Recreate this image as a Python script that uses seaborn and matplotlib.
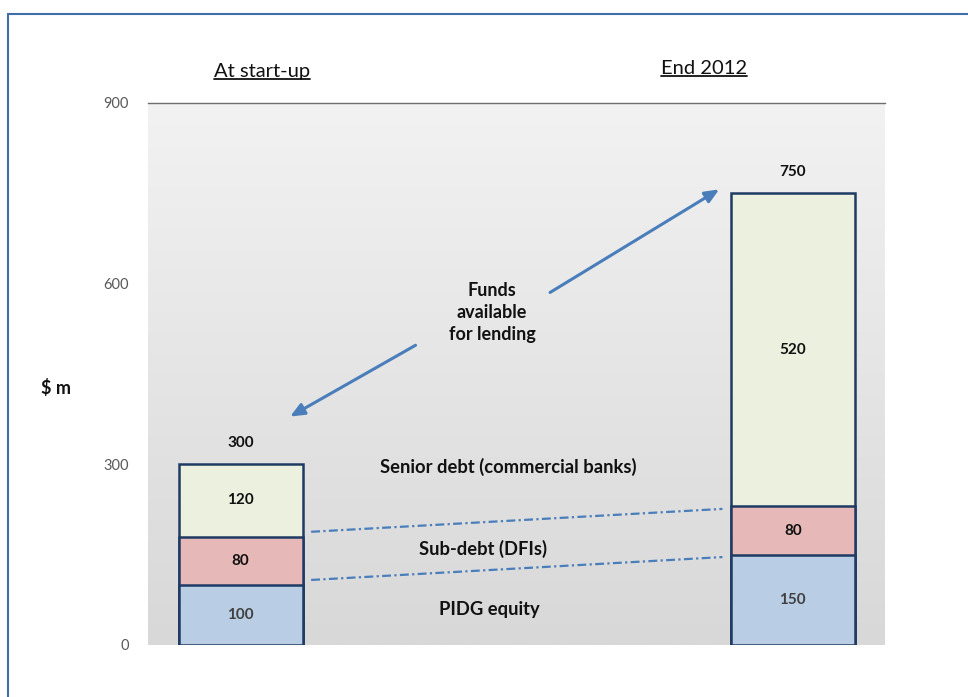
import numpy as np
import pandas as pd
import matplotlib
matplotlib.use("Agg")
import matplotlib.pyplot as plt
import seaborn as sns
from matplotlib.lines import Line2D

# ---- data ----
periods = ["At start-up", "End 2012"]
pidg_equity = [100, 150]
sub_debt = [80, 80]
senior_debt = [120, 520]
segment_names = ["PIDG equity", "Sub-debt (DFIs)", "Senior debt (commercial banks)"]
y_ticks = [0, 300, 600, 900]
y_label = "\\$ m"
note_text = "Funds\navailable\nfor lending"

totals = [a + b + c for a, b, c in zip(pidg_equity, sub_debt, senior_debt)]
eq_sub = [a + b for a, b in zip(pidg_equity, sub_debt)]

sns.set_theme(style="white")
plt.rcParams["font.family"] = ["Lato", "DejaVu Sans"]

fig = plt.figure(figsize=(9.68, 6.97), dpi=100)
ax = fig.add_axes([148/968, 52/697, 737/968, 542/697])

df = pd.DataFrame({"period": periods, "total": totals, "eq_sub": eq_sub, "eq": pidg_equity})

colors = {"senior": "#EBF1DE", "sub": "#E6B9B8", "eq": "#B9CDE5"}
edge = "#1F3B63"
bw = 0.225
for col, c in [("total", colors["senior"]), ("eq_sub", colors["sub"]), ("eq", colors["eq"])]:
    sns.barplot(data=df, x="period", y=col, order=periods, color=c, width=bw,
                edgecolor=edge, linewidth=1.8, saturation=1, ax=ax, zorder=3)

xlim = (-0.168, 1.167)
ax.set_xlim(*xlim)
ax.set_ylim(0, 900)

# gradient background
grad = np.linspace(0, 1, 256).reshape(-1, 1)
cmap = matplotlib.colors.LinearSegmentedColormap.from_list("g", ["#D8D8D8", "#F2F2F2"])
ax.imshow(grad, extent=(xlim[0], xlim[1], 0, 900), origin="lower", aspect="auto",
          cmap=cmap, zorder=0)

ax.set_yticks(y_ticks)
ax.set_yticklabels([str(t) for t in y_ticks], color="#595959", fontsize=10.5)
ax.tick_params(axis="y", length=0, pad=14)
ax.set_xticks([])
ax.set_xlabel("")
ax.set_ylabel("")
for s in ["left", "right", "bottom"]:
    ax.spines[s].set_visible(False)
ax.spines["top"].set_color("#6E6E6E")
ax.spines["top"].set_linewidth(1.0)

txtc = "#111111"
vfs = 11
# value labels
for i in range(2):
    ax.text(i, pidg_equity[i] / 2, str(pidg_equity[i]), ha="center", va="center",
            fontsize=vfs, fontweight="bold", color="#404040", zorder=5)
    ax.text(i, pidg_equity[i] + sub_debt[i] / 2, str(sub_debt[i]), ha="center", va="center",
            fontsize=vfs, fontweight="bold", color=txtc, zorder=5)
    ax.text(i, eq_sub[i] + senior_debt[i] / 2, str(senior_debt[i]), ha="center", va="center",
            fontsize=vfs, fontweight="bold", color=txtc, zorder=5)
    ax.text(i, totals[i] + 36, str(totals[i]), ha="center", va="center",
            fontsize=vfs, fontweight="bold", color=txtc, zorder=5)

# segment names
nfs = 13.2
ax.text(0.450, 59, segment_names[0], ha="center", va="center", fontsize=nfs, fontweight="bold", color=txtc)
ax.text(0.438, 159, segment_names[1], ha="center", va="center", fontsize=nfs, fontweight="bold", color=txtc)
ax.text(0.484, 296, segment_names[2], ha="center", va="center", fontsize=nfs, fontweight="bold", color=txtc)

# dash-dot connector lines
blue = "#4A7EBB"
gap = 0.015
for lvl in [pidg_equity, eq_sub]:
    ax.plot([0 + bw / 2 + gap, 1 - bw / 2 - gap], [lvl[0] + 8, lvl[1] - 4], color=blue,
            linestyle=(0, (4, 1.5, 1, 1.5)), linewidth=1.6, zorder=4)

# funds note and arrows
ax.text(0.455, 552, note_text, ha="center", va="center", fontsize=13, fontweight="bold",
        color=txtc, linespacing=1.35)
ax.annotate("", xy=(0.085, 377), xytext=(0.321, 500),
            arrowprops=dict(arrowstyle="-|>,head_length=0.7,head_width=0.3", color=blue, lw=2.2))
ax.annotate("", xy=(0.871, 759), xytext=(0.556, 583),
            arrowprops=dict(arrowstyle="-|>,head_length=0.7,head_width=0.3", color=blue, lw=2.2))

# y label
fig.text(56/968, 1 - 388/697, y_label, ha="center", va="center", fontsize=13, fontweight="bold", color=txtc)

# underlined titles
renderer = fig.canvas.get_renderer()
for txt, cx, cy in [(periods[0], 262, 72), (periods[1], 704, 69)]:
    t = fig.text(cx/968, 1 - cy/697, txt, ha="center", va="center", fontsize=14.5, color=txtc)
    bb = t.get_window_extent(renderer=renderer).transformed(fig.transFigure.inverted())
    fig.add_artist(Line2D([bb.x0, bb.x1], [bb.y0 + 0.002, bb.y0 + 0.002], transform=fig.transFigure,
                          color=txtc, linewidth=1.3))

# outer border
bc = "#3F6FA8"
fig.add_artist(Line2D([8/968, 8/968], [0, 1 - 14/697], transform=fig.transFigure, color=bc, linewidth=1.5))
fig.add_artist(Line2D([8/968, 1], [1 - 14/697, 1 - 14/697], transform=fig.transFigure, color=bc, linewidth=1.5))

fig.savefig("out.png", dpi=100, facecolor="white")
